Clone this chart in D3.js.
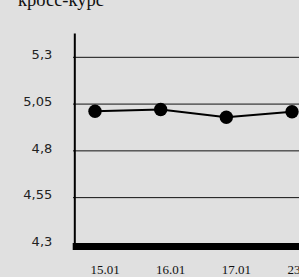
<!DOCTYPE html>
<html>
<head>
<meta charset="utf-8">
<script src="https://cdn.jsdelivr.net/npm/d3@7"></script>
<style>
  html, body { margin: 0; padding: 0; background: #e0e0e0; }
  svg { display: block; }
</style>
</head>
<body>
<div id="chart"></div>
<script>
const dates = ["15.01", "16.01", "17.01", "23.01"]
const rates = [5.012, 5.021, 4.98, 5.009]
const yTicks = [4.3, 4.55, 4.8, 5.05, 5.3]
const title = "кросс-курс"

const width = 299
const height = 277

const svg = d3.select("#chart")
  .append("svg")
  .attr("width", width)
  .attr("height", height)

svg.append("rect")
  .attr("width", width).attr("height", height)
  .attr("fill", "#e0e0e0")

const x = d3.scalePoint().domain(dates).range([95, 292])
const y = d3.scaleLinear().domain([4.3, 5.43]).range([244.4, 33])

const fmt = d => String(d).replace(".", ",")

// Title, cut off by the top edge like in the original
svg.append("text")
  .attr("x", 18).attr("y", 6)
  .attr("font-family", "Liberation Serif, serif")
  .attr("font-size", "18.5px")
  .attr("fill", "#111")
  .text(title)

// Gridlines
svg.append("g")
  .selectAll("line")
  .data(yTicks.filter(d => d !== 4.3))
  .join("line")
  .attr("x1", 73).attr("x2", width)
  .attr("y1", d => y(d)).attr("y2", d => y(d))
  .attr("stroke", "#111")
  .attr("stroke-width", 1)

// Y axis
const yAxis = svg.append("g")
  .attr("transform", "translate(74.3,0)")
  .call(d3.axisLeft(y).tickValues(yTicks).tickSize(0).tickPadding(22).tickFormat(fmt))
yAxis.select(".domain")
  .attr("stroke", "#000")
  .attr("stroke-width", 2)
yAxis.selectAll("text")
  .attr("font-family", "DejaVu Sans, sans-serif")
  .attr("font-size", "13px")
  .attr("fill", "#222")
  .attr("dy", "0.1em")

// Thick base bar at 4.3
svg.append("line")
  .attr("x1", 72.7).attr("x2", width)
  .attr("y1", y(4.3) + 2.1).attr("y2", y(4.3) + 2.1)
  .attr("stroke", "#000")
  .attr("stroke-width", 7)

// X labels
svg.append("g")
  .selectAll("text")
  .data(dates)
  .join("text")
  .attr("x", d => x(d) + 10)
  .attr("y", 274)
  .attr("text-anchor", "middle")
  .attr("font-family", "Liberation Serif, serif")
  .attr("font-size", "13px")
  .attr("fill", "#111")
  .text(d => d)

// Line and markers
const line = d3.line()
  .x((d, i) => x(dates[i]))
  .y(d => y(d))

svg.append("path")
  .datum(rates)
  .attr("d", line)
  .attr("fill", "none")
  .attr("stroke", "#000")
  .attr("stroke-width", 2)

svg.append("g")
  .selectAll("circle")
  .data(rates)
  .join("circle")
  .attr("cx", (d, i) => x(dates[i]))
  .attr("cy", d => y(d))
  .attr("r", 6.7)
  .attr("fill", "#000")
</script>
</body>
</html>
